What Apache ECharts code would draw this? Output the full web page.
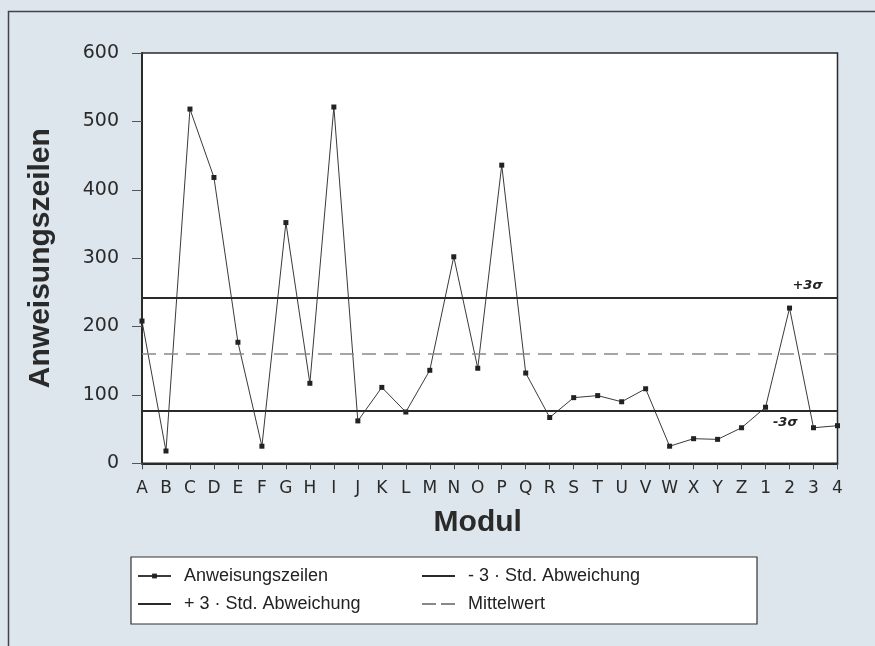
<!DOCTYPE html>
<html>
<head>
<meta charset="utf-8">
<script src="https://cdn.jsdelivr.net/npm/echarts@6/dist/echarts.min.js"></script>
<style>
html,body{margin:0;padding:0;background:#dde6ed;}
#chart{width:875px;height:646px;}
</style>
</head>
<body>
<div id="chart"></div>
<script>
const categories = ['A','B','C','D','E','F','G','H','I','J','K','L','M','N','O','P','Q','R','S','T','U','V','W','X','Y','Z','1','2','3','4'];
const anweisungszeilen = [208,18,518,418,177,25,352,117,521,62,111,75,136,302,139,436,132,67,96,99,90,109,25,36,35,52,82,227,52,55];
const plusSigma = 242;
const minusSigma = 77;
const mittelwert = 160;
const yTicks = {min: 0, max: 600, interval: 100};
const seriesNames = ['Anweisungszeilen', '+ 3 · Std. Abweichung', '- 3 · Std. Abweichung', 'Mittelwert'];

const chart = echarts.init(document.getElementById('chart'), null, {renderer: 'canvas'});
const font = 'Liberation Sans, Arial, sans-serif';
const dark = '#2a2a2a';

function legendAt(name, left, top, h, hideSymbol) {
  const l = {
    data: [name], left: left, top: top, orient: 'horizontal',
    itemWidth: 33, itemHeight: h, padding: 0,
    textStyle: {fontFamily: font, fontSize: 18, color: '#222', padding: [0, 0, 0, 8]},
    selectedMode: false
  };
  if (hideSymbol) l.itemStyle = {color: 'rgba(0,0,0,0)', borderWidth: 0, opacity: 0};
  return l;
}

chart.setOption({
  backgroundColor: '#dde6ed',
  animation: false,
  graphic: [
    {type: 'rect', shape: {x: 8.5, y: 11.5, width: 900, height: 700},
     style: {fill: 'none', stroke: '#444', lineWidth: 1.5}, z: 0, silent: true},
    {type: 'rect', shape: {x: 131, y: 557, width: 626, height: 67},
     style: {fill: '#ffffff', stroke: '#333', lineWidth: 1.2}, z: 0, silent: true}
  ],
  grid: {left: 142, right: 37.5, top: 53, bottom: 182.7, show: true,
         backgroundColor: '#ffffff', borderColor: dark, borderWidth: 1.5},
  legend: [
    legendAt(seriesNames[0], 137, 567, 6, false),
    legendAt(seriesNames[1], 137, 595, 14, true),
    legendAt(seriesNames[2], 421, 567, 14, true),
    legendAt(seriesNames[3], 421, 595, 14, true)
  ],
  xAxis: {
    type: 'category', data: categories, boundaryGap: false,
    axisLine: {lineStyle: {color: dark, width: 2}},
    axisTick: {show: true, inside: false, length: 6, lineStyle: {color: '#444', width: 1}},
    axisLabel: {fontFamily: 'DejaVu Sans, sans-serif', fontSize: 17, color: '#2a2a2a', margin: 17, interval: 0},
    name: 'Modul', nameLocation: 'middle', nameGap: 44,
    nameTextStyle: {fontFamily: font, fontSize: 30, fontWeight: 'bold', color: '#2a2a2a', padding: [0, 24, 0, 0]},
    splitLine: {show: false}
  },
  yAxis: {
    type: 'value', min: yTicks.min, max: yTicks.max, interval: yTicks.interval,
    axisLine: {show: true, lineStyle: {color: dark, width: 2}},
    axisTick: {show: true, inside: false, length: 10, lineStyle: {color: '#555', width: 1}},
    axisLabel: {fontFamily: 'DejaVu Sans, sans-serif', fontSize: 19, color: '#2a2a2a', margin: 23},
    splitLine: {show: false},
    name: 'Anweisungszeilen', nameLocation: 'middle', nameGap: 86,
    nameTextStyle: {fontFamily: font, fontSize: 30, fontWeight: 'bold', color: '#2a2a2a'}
  },
  series: [
    {
      name: seriesNames[0], type: 'line', data: anweisungszeilen,
      symbol: 'rect', symbolSize: 5, showSymbol: true,
      lineStyle: {color: '#3a3a3a', width: 1},
      itemStyle: {color: '#222'}, z: 3
    },
    {
      name: seriesNames[1], type: 'line', data: [],
      lineStyle: {color: dark, width: 2}, itemStyle: {color: dark}, symbol: 'none',
      markLine: {silent: true, symbol: 'none',
        lineStyle: {color: dark, width: 2, type: 'solid'},
        label: {show: true, position: 'insideEndTop', formatter: '+3σ', distance: [15, 6],
                fontFamily: 'DejaVu Sans, sans-serif', fontStyle: 'italic', fontWeight: 'bold', fontSize: 13, color: '#222'},
        data: [{yAxis: plusSigma}]}
    },
    {
      name: seriesNames[2], type: 'line', data: [],
      lineStyle: {color: dark, width: 2}, itemStyle: {color: dark}, symbol: 'none',
      markLine: {silent: true, symbol: 'none',
        lineStyle: {color: dark, width: 2, type: 'solid'},
        label: {show: true, position: 'insideEndBottom', formatter: '-3σ', distance: [40, 5],
                fontFamily: 'DejaVu Sans, sans-serif', fontStyle: 'italic', fontWeight: 'bold', fontSize: 13, color: '#222'},
        data: [{yAxis: minusSigma}]}
    },
    {
      name: seriesNames[3], type: 'line', data: [],
      lineStyle: {color: '#888', width: 1.5, type: [14, 5]}, itemStyle: {color: '#888'}, symbol: 'none',
      markLine: {silent: true, symbol: 'none',
        lineStyle: {color: '#888', width: 1.5, type: [14, 8]},
        label: {show: false},
        data: [{yAxis: mittelwert}]}
    }
  ]
});
</script>
</body>
</html>
